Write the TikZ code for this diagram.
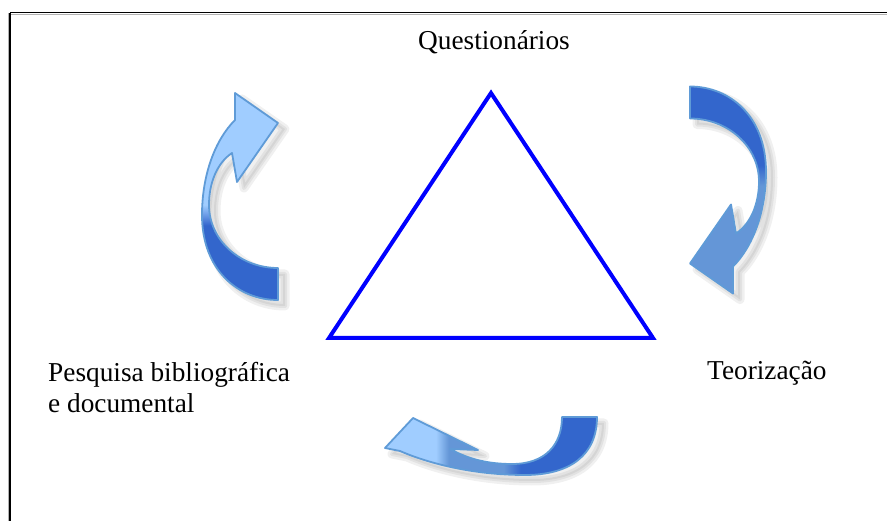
\documentclass[tikz,border=0pt]{standalone}
\usepackage{fontspec}
\setmainfont{Liberation Serif}
\usepackage{xcolor}
\usepackage{tikz}

\definecolor{arrdark}{RGB}{51,102,204}
\definecolor{arrmid}{RGB}{100,150,215}
\definecolor{arrlight}{RGB}{160,205,255}
\definecolor{arredge}{RGB}{95,155,215}
\definecolor{triblue}{RGB}{0,0,255}

\pgfdeclareverticalshading{leftribbon}{100bp}{color(0bp)=(arrdark); color(43bp)=(arrdark); color(48bp)=(arrlight); color(100bp)=(arrlight)}
\pgfdeclareverticalshading{rightribbon}{100bp}{color(0bp)=(arrdark); color(44bp)=(arrdark); color(49bp)=(arrmid); color(100bp)=(arrmid)}
\pgfdeclarehorizontalshading{lowribbon}{100bp}{color(0bp)=(arrlight); color(37bp)=(arrlight); color(40bp)=(arrmid); color(53bp)=(arrmid); color(57bp)=(arrdark); color(100bp)=(arrdark)}

% outlines of the three curved arrows (pixel units, y downwards)
\newcommand{\leftribbonpath}{(235,93) -- (278,123) -- (237,182) -- (232,153) .. controls (217,163) and (209,183) .. (209,205) .. controls (209,240) and (240,268) .. (278,268) -- (278,300) .. controls (238,300) and (202,270) .. (202,215) .. controls (202,175) and (215,140) .. (235,120) -- cycle}
\newcommand{\rightribbonpath}{(733,293.5) -- (690,263.5) -- (731,204.5) -- (736,233.5) .. controls (751,223.5) and (759,203.5) .. (759,181.5) .. controls (759,146.5) and (728,118.5) .. (690,118.5) -- (690,86.5) .. controls (730,86.5) and (766,116.5) .. (766,171.5) .. controls (766,211.5) and (753,246.5) .. (733,266.5) -- cycle}
\newcommand{\lowribbonpath}{(385,448) -- (413,418) -- (478,450) -- (450,449) .. controls (470,460) and (490,464) .. (512,464) .. controls (545,464) and (562,445) .. (562,417) -- (597,417) .. controls (597,455) and (570,475) .. (525,475) .. controls (470,475) and (425,462) .. (400,451) -- cycle}

\newcommand{\ribbonshadow}[1]{%
  \fill[softshadow] #1;
  \draw[softshadow, line width=9pt] #1;
  \draw[softshadow, line width=4pt] #1;}

\tikzset{
  lbl/.style={inner sep=0pt, font=\fontsize{27.3}{31}\selectfont},
  tri/.style={triblue, line width=4pt, line join=miter},
  softshadow/.style={black, opacity=0.06, line join=round, shift={(7,6)}},
  ribbonedge/.style={draw=arredge, line width=1.8pt, line join=round}
}

\begin{document}
\begin{tikzpicture}[x=1pt, y=-1pt]
\useasboundingbox (0,0) rectangle (887,521);

% frame: only top and left edges
\draw[black!30, line width=1pt] (10,14.5) -- (887,14.5);
\draw[black!30, line width=1pt] (8.5,13) -- (8.5,521);
\draw[black, line width=1.5pt] (10.2,12.7) -- (887,12.7);
\draw[black, line width=1.5pt] (10.2,12.7) -- (10.2,521);

% triangle
\coordinate (apex) at (491,93);
\coordinate (baseL) at (329,338);
\coordinate (baseR) at (653,338);
\draw[tri] (apex) -- (baseL) -- (baseR) -- cycle;

% curved arrows with their shadows
\ribbonshadow{\leftribbonpath}
\ribbonshadow{\rightribbonpath}
\ribbonshadow{\lowribbonpath}
\shade[shading=leftribbon, ribbonedge] \leftribbonpath;
\shade[shading=rightribbon, shading angle=180, ribbonedge] \rightribbonpath;
\shade[shading=lowribbon, ribbonedge] \lowribbonpath;

% labels
\node[lbl, anchor=base west] (quest) at (418,50) {Questionários};
\node[lbl, anchor=base west, align=left] (pesq) at (48,413) {Pesquisa bibliográfica\\e documental};
\node[lbl, anchor=base west] (teor) at (707,380) {Teorização};
\end{tikzpicture}
\end{document}
